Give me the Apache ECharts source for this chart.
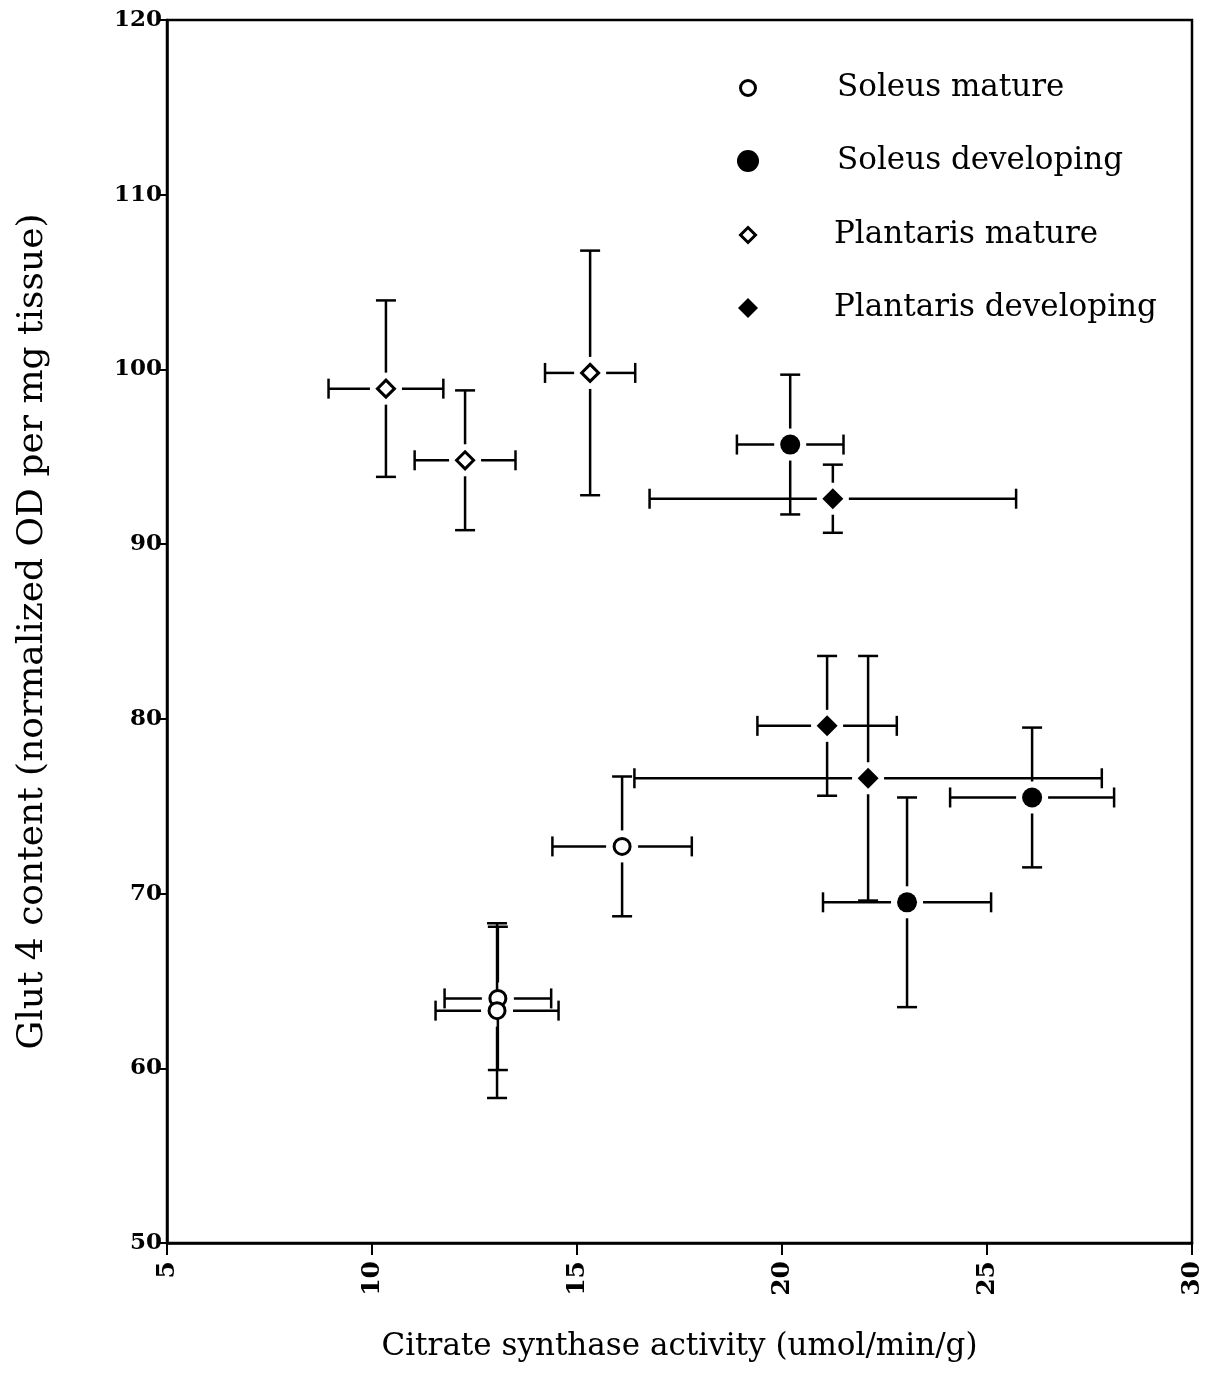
<!DOCTYPE html>
<html>
<head>
<meta charset="utf-8">
<script src="https://cdn.jsdelivr.net/npm/echarts@6/dist/echarts.min.js"></script>
<style>
  html, body { margin: 0; padding: 0; background: #fff; }
  #chart { width: 1219px; height: 1374px; }
</style>
</head>
<body>
<div id="chart"></div>
<script>
// Group names, in legend order
const groupNames = ['Soleus mature', 'Soleus developing', 'Plantaris mature', 'Plantaris developing'];

// Citrate synthase activity (x), Glut 4 content (y), and their error half-widths
const soleusMatureX = [16.1, 13.07, 13.05];
const soleusMatureY = [72.7, 64.0, 63.3];
const soleusMatureXErr = [1.7, 1.3, 1.5];
const soleusMatureYErr = [4.0, 4.1, 5.0];

const soleusDevX = [20.2, 23.05, 26.1];
const soleusDevY = [95.7, 69.5, 75.5];
const soleusDevXErr = [1.3, 2.05, 2.0];
const soleusDevYErr = [4.0, 6.0, 4.0];

const plantarisMatureX = [10.34, 12.27, 15.32];
const plantarisMatureY = [98.9, 94.8, 99.8];
const plantarisMatureXErr = [1.4, 1.23, 1.1];
const plantarisMatureYErr = [5.05, 4.0, 7.0];

const plantarisDevX = [21.24, 21.1, 22.1];
const plantarisDevY = [92.6, 79.6, 76.6];
const plantarisDevXErr = [4.47, 1.7, 5.7];
const plantarisDevYErr = [1.95, 4.0, 7.0];

// Axis ticks
const xTicks = [5, 10, 15, 20, 25, 30];
const yTicks = [50, 60, 70, 80, 90, 100, 110, 120];

const SERIF = '"DejaVu Serif", "Liberation Serif", serif';
const INK = '#000';

function pts(xs, ys, xe, ye) {
  return xs.map((x, i) => [x, ys[i], xe[i], ye[i]]);
}

const groups = [
  { name: groupNames[0], data: pts(soleusMatureX, soleusMatureY, soleusMatureXErr, soleusMatureYErr),
    symbol: 'circle', size: 16, filled: false },
  { name: groupNames[1], data: pts(soleusDevX, soleusDevY, soleusDevXErr, soleusDevYErr),
    symbol: 'circle', size: 20, filled: true },
  { name: groupNames[2], data: pts(plantarisMatureX, plantarisMatureY, plantarisMatureXErr, plantarisMatureYErr),
    symbol: 'diamond', size: 17, filled: false },
  { name: groupNames[3], data: pts(plantarisDevX, plantarisDevY, plantarisDevXErr, plantarisDevYErr),
    symbol: 'diamond', size: 21, filled: true }
];

// Crosshair error bars with end caps; a small gap is left around each marker
const GAP = 16, CAP = 10, LW = 2.5;
function renderErrorBars(params, api) {
  const x = api.value(0), y = api.value(1), ex = api.value(2), ey = api.value(3);
  const c = api.coord([x, y]);
  const l = api.coord([x - ex, y]), r = api.coord([x + ex, y]);
  const t = api.coord([x, y + ey]), b = api.coord([x, y - ey]);
  const style = { stroke: INK, lineWidth: LW, fill: null };
  const seg = (x1, y1, x2, y2) => ({ type: 'line', shape: { x1, y1, x2, y2 }, style });
  const children = [];
  if (l[0] < c[0] - GAP) children.push(seg(l[0], c[1], c[0] - GAP, c[1]));
  if (r[0] > c[0] + GAP) children.push(seg(c[0] + GAP, c[1], r[0], c[1]));
  if (t[1] < c[1] - GAP) children.push(seg(c[0], t[1], c[0], c[1] - GAP));
  if (b[1] > c[1] + GAP) children.push(seg(c[0], c[1] + GAP, c[0], b[1]));
  children.push(seg(l[0], c[1] - CAP, l[0], c[1] + CAP));
  children.push(seg(r[0], c[1] - CAP, r[0], c[1] + CAP));
  children.push(seg(c[0] - CAP, t[1], c[0] + CAP, t[1]));
  children.push(seg(c[0] - CAP, b[1], c[0] + CAP, b[1]));
  return { type: 'group', children };
}

const series = [];
groups.forEach(g => {
  series.push({
    type: 'custom',
    name: g.name + ' error',
    renderItem: renderErrorBars,
    data: g.data,
    encode: { x: 0, y: 1 },
    z: 2,
    silent: true
  });
});
groups.forEach(g => {
  series.push({
    type: 'scatter',
    name: g.name,
    data: g.data.map(d => [d[0], d[1]]),
    symbol: g.symbol,
    symbolSize: g.size,
    itemStyle: g.filled
      ? { color: INK, borderColor: INK, borderWidth: 0, opacity: 1 }
      : { color: '#fff', borderColor: INK, borderWidth: 3, opacity: 1 },
    z: 3,
    silent: true
  });
});

// Legend: marker column and label column, drawn as graphics
const legendRowsY = [88, 161, 235, 308];
const legendMarkerX = 748;
const legendTextX = [837, 837, 834, 834];
const legendGraphics = [];
groups.forEach((g, i) => {
  const cy = legendRowsY[i];
  let shape;
  if (g.symbol === 'circle') {
    shape = { type: 'circle', shape: { cx: legendMarkerX, cy, r: g.filled ? 11 : 7.5 },
      style: g.filled ? { fill: INK } : { fill: '#fff', stroke: INK, lineWidth: 3 } };
  } else {
    const h = g.filled ? 10 : 7.5;
    shape = { type: 'polygon',
      shape: { points: [[legendMarkerX, cy - h], [legendMarkerX + h, cy], [legendMarkerX, cy + h], [legendMarkerX - h, cy]] },
      style: g.filled ? { fill: INK } : { fill: '#fff', stroke: INK, lineWidth: 3 } };
  }
  legendGraphics.push(shape);
  legendGraphics.push({
    type: 'text', x: legendTextX[i], y: cy,
    style: { text: g.name, font: '31px ' + SERIF, fill: INK, textVerticalAlign: 'middle', textAlign: 'left' }
  });
});

const chart = echarts.init(document.getElementById('chart'), null, { renderer: 'canvas' });
chart.setOption({
  backgroundColor: '#fff',
  animation: false,
  grid: {
    left: 167, right: 27, top: 20, bottom: 131,
    show: true, borderColor: INK, borderWidth: 2.5, backgroundColor: 'transparent'
  },
  xAxis: {
    type: 'value',
    min: xTicks[0], max: xTicks[xTicks.length - 1], interval: 5,
    name: 'Citrate synthase activity (umol/min/g)',
    nameLocation: 'middle', nameGap: 88,
    nameTextStyle: { fontFamily: SERIF, fontSize: 31, color: INK },
    axisLine: { show: true, lineStyle: { color: INK, width: 2.5 } },
    axisTick: { show: true, inside: false, length: 12, lineStyle: { color: INK, width: 2 } },
    axisLabel: { rotate: 90, margin: 18, fontFamily: SERIF, fontWeight: 'bold', fontSize: 25, color: INK },
    splitLine: { show: false }
  },
  yAxis: {
    type: 'value',
    min: yTicks[0], max: yTicks[yTicks.length - 1], interval: 10,
    name: 'Glut 4 content (normalized OD per mg tissue)',
    nameLocation: 'middle', nameGap: 116, nameRotate: 90,
    nameTextStyle: { fontFamily: SERIF, fontSize: 36, color: INK },
    axisLine: { show: true, lineStyle: { color: INK, width: 2.5 } },
    axisTick: { show: true, inside: false, length: 9, lineStyle: { color: INK, width: 2 } },
    axisLabel: { margin: 5, fontFamily: SERIF, fontWeight: 'bold', fontSize: 23, color: INK },
    splitLine: { show: false }
  },
  graphic: legendGraphics,
  series
});
</script>
</body>
</html>
